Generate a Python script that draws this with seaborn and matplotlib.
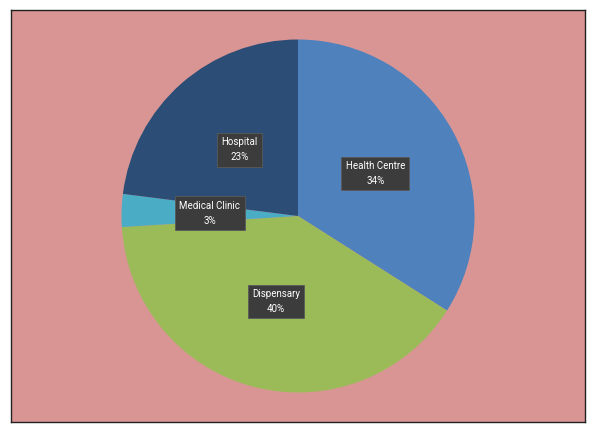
import seaborn as sns
import matplotlib.pyplot as plt

categories = ["Health Centre", "Dispensary", "Medical Clinic", "Hospital"]
shares = [34, 40, 3, 23]
slice_colors = ["#4F81BD", "#9BBB59", "#4BACC6", "#2C4D75"]

sns.set_theme(style="white")
plt.rcParams["font.family"] = ["Roboto", "DejaVu Sans"]

W, H = 594, 433
fig = plt.figure(figsize=(W / 100, H / 100), dpi=100, facecolor="white")
# framed plot area (pixels): x 11..585, y 10..422
ax = fig.add_axes([11 / W, (H - 422) / H, 574 / W, 412 / H])

pal = sns.color_palette(slice_colors)
labels = [f"{c}\n{v}%" for c, v in zip(categories, shares)]
wedges, texts = ax.pie(
    shares,
    colors=pal,
    startangle=90,
    counterclock=False,
    labels=labels,
    labeldistance=0.5,
    radius=1.0,
    frame=True,
    wedgeprops={"linewidth": 0},
    textprops={"color": "white", "fontsize": 7, "ha": "center", "va": "center",
               "linespacing": 1.6},
)
for t in texts:
    t.set_bbox(dict(boxstyle="square,pad=0.45", facecolor="#3C3C3C",
                    edgecolor="#5A5A5A", linewidth=0.6))

ax.set_frame_on(True)
ax.set_facecolor("#D99594")
r_px = 176.5
ax.set_xlim(-574 / 2 / r_px, 574 / 2 / r_px)
ax.set_ylim(-412 / 2 / r_px, 412 / 2 / r_px)
ax.set_aspect("auto")
ax.set_xticks([])
ax.set_yticks([])
for s in ax.spines.values():
    s.set_visible(True)
    s.set_color("#222222")
    s.set_linewidth(1.0)

fig.savefig("out.png", dpi=100, facecolor="white")
